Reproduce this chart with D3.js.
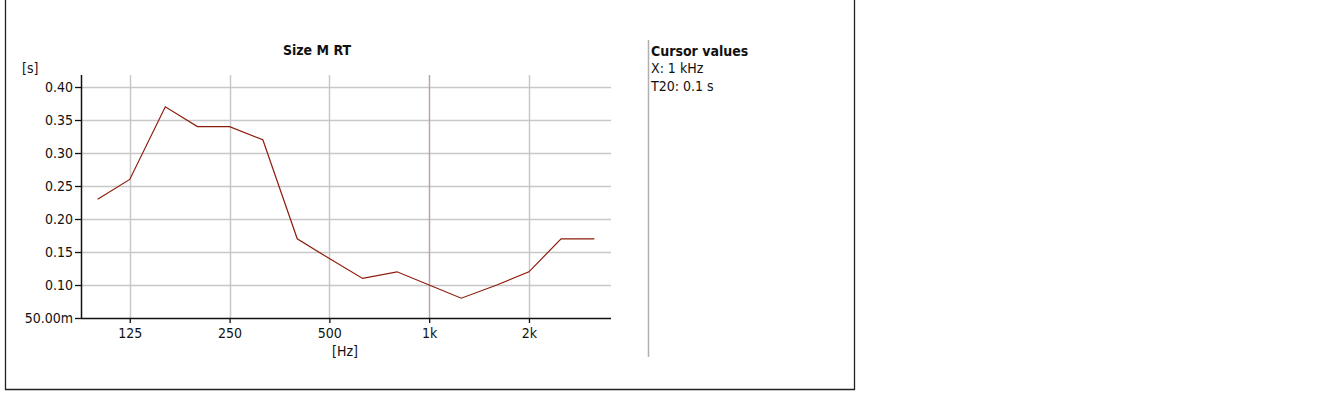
<!DOCTYPE html>
<html><head><meta charset="utf-8">
<script src="https://cdn.jsdelivr.net/npm/d3@7"></script>
<style>body{margin:0;background:#fff}svg{display:block}text{font-family:"DejaVu Sans Condensed","DejaVu Sans",sans-serif;fill:#111}</style>
</head><body>
<svg id="c" width="1320" height="400"></svg>
<script>
const freqs = [100,125,160,200,250,315,400,500,630,800,1000,1250,1600,2000,2500,3150];
const t20 = [0.23,0.26,0.37,0.34,0.34,0.32,0.17,0.14,0.11,0.12,0.10,0.08,0.10,0.12,0.17,0.17];
const xTicks = [125,250,500,1000,2000];
const xTickLabels = ["125","250","500","1k","2k"];
const yTicks = [0.05,0.10,0.15,0.20,0.25,0.30,0.35,0.40];
const yTickLabels = ["50.00m","0.10","0.15","0.20","0.25","0.30","0.35","0.40"];
const cursorFreq = 1000;
const title = "Size M RT";
const cursorLines = ["X: 1 kHz","T20: 0.1 s"];

const FS = 14;
const svg = d3.select("#c");
const L=81, R=611, T=75, B=318;
const x = d3.scaleLog().base(2).domain([100/Math.pow(2,1/6), 3150*Math.pow(2,1/6)]).range([L,R]);
const y = d3.scaleLinear().domain([0.05,0.4182]).range([B,T]);

// outer frame
svg.append("path").attr("d","M5.5,0V389.5H854.5V0").attr("fill","none").attr("stroke","#222").attr("stroke-width",1.3);

// grid
const g = svg.append("g");
g.selectAll(".hg").data(yTicks.slice(1)).join("line")
  .attr("x1",L).attr("x2",R).attr("y1",d=>Math.round(y(d))+0.5).attr("y2",d=>Math.round(y(d))+0.5)
  .attr("stroke","#c8c8c8").attr("stroke-width",1.5);
g.selectAll(".vg").data(xTicks).join("line")
  .attr("x1",d=>Math.round(x(d))+0.5).attr("x2",d=>Math.round(x(d))+0.5).attr("y1",T).attr("y2",B)
  .attr("stroke",d=>d===cursorFreq?"#b4a6b4":"#c8c8c8").attr("stroke-width",1.5);

// axes
const yAxis = d3.axisLeft(y).tickValues(yTicks).tickSize(6).tickPadding(2).tickFormat((d,i)=>yTickLabels[i]);
const ya = svg.append("g").attr("transform",`translate(${L},0)`).call(yAxis);
const xAxis = d3.axisBottom(x).tickValues(xTicks).tickSize(5).tickPadding(5).tickFormat((d,i)=>xTickLabels[i]);
const xa = svg.append("g").attr("transform",`translate(0,${B})`).call(xAxis);
[ya,xa].forEach(a=>{
  a.attr("font-size",FS);
  a.select(".domain").attr("stroke","#111").attr("stroke-width",1.5);
  a.selectAll(".tick line").attr("stroke","#111").attr("stroke-width",1.3);
  a.selectAll("text").attr("font-size",FS).attr("fill","#111").style("font-family",'"DejaVu Sans Condensed","DejaVu Sans",sans-serif');
});
ya.select(".domain").attr("d",`M0.5,${T}V${B}.5`);
xa.select(".domain").attr("d",`M${L},0.5H${R}`);

// line
svg.append("path").datum(freqs.map((f,i)=>[f,t20[i]]))
  .attr("d",d3.line().x(d=>x(d[0])).y(d=>y(d[1])))
  .attr("fill","none").attr("stroke","#8e1c0c").attr("stroke-width",1.2);

// labels
svg.append("text").attr("x",317).attr("y",55).attr("text-anchor","middle").attr("font-weight","bold").attr("font-size",FS).text(title);
svg.append("text").attr("x",22).attr("y",73).attr("font-size",FS).text("[s]");
svg.append("text").attr("x",345).attr("y",356).attr("text-anchor","middle").attr("font-size",FS).text("[Hz]");

// cursor panel
svg.append("line").attr("x1",648.5).attr("x2",648.5).attr("y1",40).attr("y2",357).attr("stroke","#b0b0b0").attr("stroke-width",1.5);
svg.append("text").attr("x",651).attr("y",56).attr("font-weight","bold").attr("font-size",FS).text("Cursor values");
svg.selectAll(".cv").data(cursorLines).join("text").attr("x",651).attr("y",(d,i)=>73+i*18).attr("font-size",FS).text(d=>d);
</script>
</body></html>
